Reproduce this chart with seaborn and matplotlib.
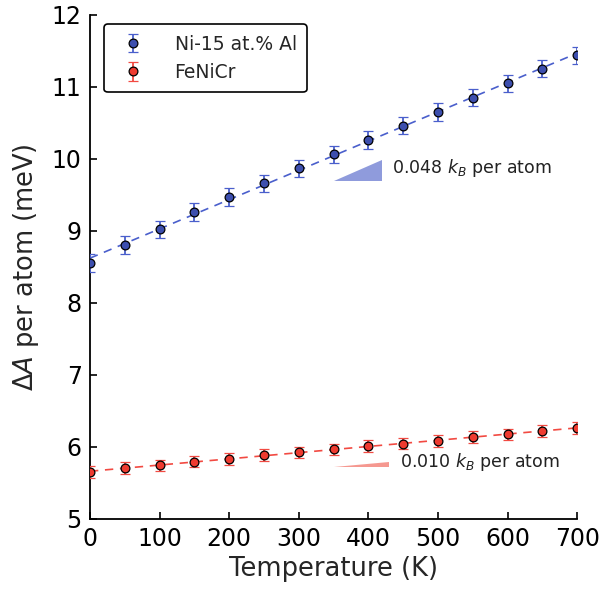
import numpy as np
import pandas as pd
import matplotlib
matplotlib.use("Agg")
import matplotlib.pyplot as plt
import seaborn as sns

temperature = [0, 50, 100, 150, 200, 250, 300, 350, 400, 450, 500, 550, 600, 650, 700]
ni_al = [8.55, 8.80, 9.02, 9.26, 9.47, 9.66, 9.87, 10.06, 10.26, 10.46, 10.65, 10.85, 11.05, 11.25, 11.44]
ni_al_err = [0.12] * 15
fenicr = [5.65, 5.70, 5.74, 5.79, 5.83, 5.88, 5.92, 5.96, 6.01, 6.04, 6.08, 6.13, 6.17, 6.22, 6.26]
fenicr_err = [0.08] * 15
labels = ["Ni-15 at.% Al", "FeNiCr"]
slope_labels = ["0.048 $k_B$ per atom", "0.010 $k_B$ per atom"]
kB = 0.08617  # meV/K
slopes_kB = [0.048, 0.010]

blue_fill, blue_bar = "#3d4fae", "#4a5fcc"
red_fill, red_bar = "#ee3b30", "#f24a42"

sns.set_theme(style="ticks")
plt.rcParams["font.family"] = ["DejaVu Sans"]
plt.rcParams["mathtext.fontset"] = "dejavusans"

fig, ax = plt.subplots(figsize=(6.0, 5.96), dpi=100)
fig.subplots_adjust(left=0.15, right=0.962, top=0.975, bottom=0.13)

df = pd.DataFrame({"T": temperature, "ni": ni_al, "fe": fenicr})

for col, err, fill, bar, lab in [("ni", ni_al_err, blue_fill, blue_bar, labels[0]),
                                 ("fe", fenicr_err, red_fill, red_bar, labels[1])]:
    ax.errorbar(df["T"], df[col], yerr=err, fmt="o", ms=6.3, mfc=fill, mec="black",
                mew=0.9, ecolor=bar, elinewidth=1.3, capsize=3.8, capthick=1.3,
                label=lab, zorder=3)
    sns.regplot(data=df, x="T", y=col, ax=ax, scatter=False, ci=None,
                line_kws=dict(color=bar, lw=1.2, ls=(0, (5, 4))), truncate=True)

# slope triangles
tri_specs = [(350, 420, 9.69, slopes_kB[0], "#8f9bdc", 434, 9.87, slope_labels[0]),
             (350, 430, 5.71, slopes_kB[1], "#f59890", 445, 5.79, slope_labels[1])]
for x0, x1, yb, s, c, tx, ty, txt in tri_specs:
    rise = (x1 - x0) * s * kB
    ax.fill([x0, x1, x1], [yb, yb, yb + rise], color=c, lw=0, zorder=2)
    ax.text(tx, ty, txt, fontsize=12.5, va="center", ha="left", color="#222222")

ax.set_xlim(0, 700)
ax.set_ylim(5, 12)
ax.set_xticks(range(0, 701, 100))
ax.set_yticks(range(5, 13))
ax.set_xlabel("Temperature (K)", fontsize=18.5, labelpad=4)
ax.set_ylabel(r"$\Delta A$ per atom (meV)", fontsize=18.5, labelpad=8)
ax.tick_params(direction="in", length=5, width=1.2, labelsize=17, colors="black", pad=6)
for sp in ["top", "right"]:
    ax.spines[sp].set_visible(False)
for sp in ["left", "bottom"]:
    ax.spines[sp].set_linewidth(1.3)
    ax.spines[sp].set_color("black")

leg = ax.legend(loc="upper left", bbox_to_anchor=(0.01, 1.0), fontsize=13.5,
                frameon=True, fancybox=True, edgecolor="black", handletextpad=1.2,
                borderpad=0.55, labelspacing=0.5)
leg.get_frame().set_linewidth(1.2)
leg.get_frame().set_alpha(1)

fig.savefig("out.png", dpi=100)
